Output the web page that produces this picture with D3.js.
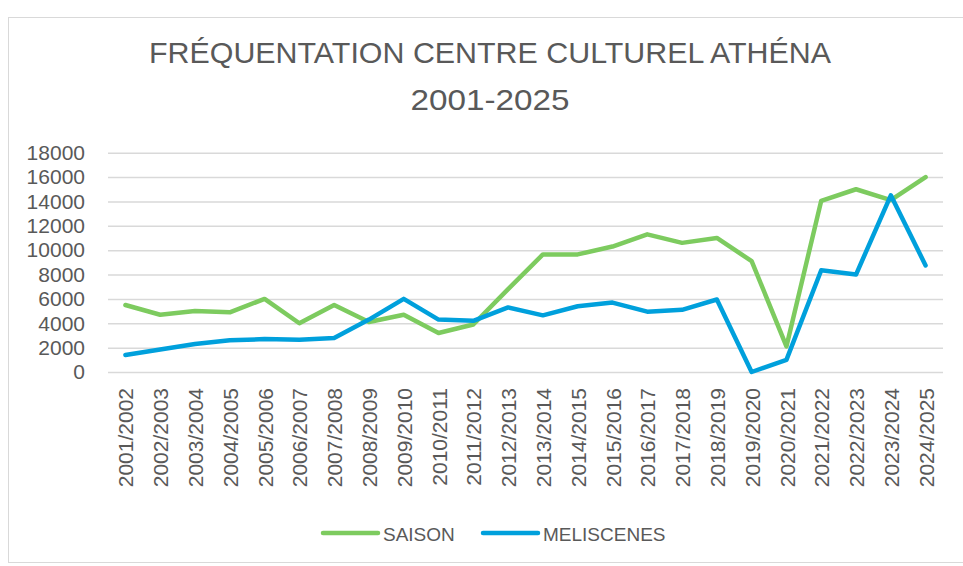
<!DOCTYPE html>
<html>
<head>
<meta charset="utf-8">
<script src="https://cdn.jsdelivr.net/npm/d3@7"></script>
<style>
  html, body { margin: 0; padding: 0; background: #fff; }
  svg { display: block; }
</style>
</head>
<body>
<svg id="chart" width="963" height="566"></svg>
<script>
const seasons = ["2001/2002","2002/2003","2003/2004","2004/2005","2005/2006","2006/2007","2007/2008","2008/2009","2009/2010","2010/2011","2011/2012","2012/2013","2013/2014","2014/2015","2015/2016","2016/2017","2017/2018","2018/2019","2019/2020","2020/2021","2021/2022","2022/2023","2023/2024","2024/2025"];
const saison = [5500,4700,5000,4900,6000,4000,5500,4100,4700,3200,3900,6800,9650,9650,10300,11300,10600,11000,9100,2100,14050,15000,14100,16000];
const meliscenes = [1400,1850,2300,2600,2700,2650,2800,4300,6000,4300,4200,5300,4650,5400,5700,4950,5100,5950,0,1000,8350,8000,14500,8750];
const yTicks = [0,2000,4000,6000,8000,10000,12000,14000,16000,18000];
const titleLines = ["FRÉQUENTATION CENTRE CULTUREL ATHÉNA", "2001-2025"];
const seriesNames = ["SAISON", "MELISCENES"];
const colors = ["#7dcb5f", "#00a0dc"];

const svg = d3.select("#chart");
const font = "'Liberation Sans', Arial, sans-serif";
const textColor = "#595959";

// chart border
svg.append("rect").attr("x", 8.5).attr("y", 17.5).attr("width", 980).attr("height", 545)
  .attr("fill", "#fff").attr("stroke", "#d9d9d9").attr("stroke-width", 1);

// title
const titleWidths = [682, 159];
const titleY = [63.3, 110];
titleLines.forEach((t, i) => {
  svg.append("text").attr("x", 490).attr("y", titleY[i]).attr("text-anchor", "middle")
    .attr("font-family", font).attr("font-size", 30).attr("fill", textColor)
    .attr("textLength", titleWidths[i]).attr("lengthAdjust", "spacingAndGlyphs")
    .text(t);
});

const x = d3.scalePoint().domain(seasons).range([108, 943]).padding(0.5);
const y = d3.scaleLinear().domain([0, 18000]).range([372, 152.7]);

// gridlines + y axis labels
const yAxis = d3.axisLeft(y).tickValues(yTicks).tickFormat(d3.format("d"))
  .tickSize(-(943 - 108)).tickPadding(23);
const gy = svg.append("g").attr("transform", "translate(108,0)").call(yAxis);
gy.select(".domain").remove();
gy.selectAll(".tick line").attr("stroke", "#d9d9d9").attr("stroke-width", 1.5);
gy.selectAll(".tick text").attr("font-family", font).attr("font-size", 21).attr("fill", textColor);

// x axis labels
const xAxis = d3.axisBottom(x).tickSize(0).tickPadding(0);
const gx = svg.append("g").attr("transform", "translate(0,372)").call(xAxis);
gx.select(".domain").remove();
gx.selectAll(".tick text")
  .attr("font-family", font).attr("font-size", 21).attr("fill", textColor)
  .attr("text-anchor", "end")
  .attr("transform", "rotate(-90)")
  .attr("x", -16).attr("y", 0).attr("dy", "0.36em");

// lines
const line = d3.line().x((d, i) => x(seasons[i])).y(d => y(d));
[saison, meliscenes].forEach((s, k) => {
  svg.append("path").datum(s).attr("d", line).attr("fill", "none")
    .attr("stroke", colors[k]).attr("stroke-width", 4.5)
    .attr("stroke-linejoin", "round").attr("stroke-linecap", "round");
});

// legend
const legX = [323, 483];
seriesNames.forEach((n, k) => {
  const g = svg.append("g").attr("transform", `translate(${legX[k]},533)`);
  g.append("line").attr("x1", 0).attr("x2", 55).attr("y1", 0).attr("y2", 0)
    .attr("stroke", colors[k]).attr("stroke-width", 4.5).attr("stroke-linecap", "round");
  g.append("text").attr("x", 60).attr("y", 8).attr("font-family", font).attr("font-size", 19)
    .attr("fill", textColor).text(n);
});
</script>
</body>
</html>
